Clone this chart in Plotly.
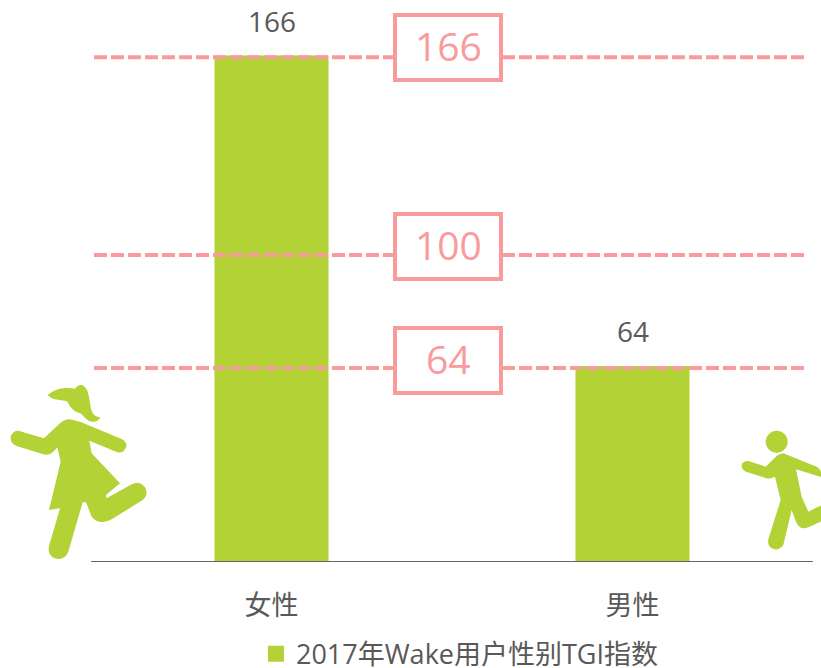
import re
import plotly.graph_objects as go

categories = ["女性", "男性"]
tgi_values = [166, 64]
reference_labels = ["166", "100", "64"]
reference_line_values = [165.4, 100.5, 63.4]
reference_box_centres = [168.8, 103.3, 65.9]
series_name = "2017年Wake用户性别TGI指数"

W, H = 821, 668
ML, MR, MT, MB = 91, 8, 0, 107
GREEN = "#b2d235"
PINK = "#f99a9c"
GREY = "#595959"
FONT = "Open Sans, Noto Sans CJK SC, sans-serif"
PX_PER_UNIT = 3.045


def icon(path, ox, oy):
    """Zoomed-crop coordinates (3x) -> paper fractions."""
    def conv(m):
        x = ox + float(m.group(1)) / 3
        y = oy + float(m.group(2)) / 3
        return f"{(x - ML) / (W - ML - MR):.5f},{1 - (y - MT) / (H - MT - MB):.5f}"
    return re.sub(r"(-?[\d.]+),(-?[\d.]+)", conv, path)


girl_hair = ("M143,75 C165,55 195,50 226,56 C232,44 246,42 254,50 C266,62 268,85 271,105 "
             "C273,125 282,142 301,142 C296,156 276,160 262,149 C250,140 246,132 240,130 "
             "C222,124 208,110 203,95 C190,88 160,94 143,75 Z")
girl_body = ("M210,148 L240,155 L365,207 Q385,218 377,235 Q368,252 350,246 L268,212 L275,250 "
             "L360,340 L318,375 L320,385 L395,343 Q420,332 435,352 Q447,375 428,390 L340,445 "
             "Q298,470 275,440 L258,397 L248,397 L205,545 Q192,575 162,564 Q140,552 148,525 "
             "L180,415 L147,420 L182,275 L172,232 L160,245 Q148,258 130,253 L50,228 "
             "Q28,218 33,197 Q44,176 65,185 L132,205 L180,160 Q194,148 210,148 Z")
boy_head = ("M203,65 C203,83 188,98 170,98 C152,98 137,83 137,65 "
            "C137,47 152,32 170,32 C188,32 203,47 203,65 Z")
boy_body = ("M190,100 L290,140 Q305,148 306,172 L228,148 L245,230 L265,275 L306,255 L306,303 "
            "L265,322 Q240,332 228,305 L215,270 L190,375 Q175,395 155,385 Q140,375 146,355 "
            "L182,240 L165,170 L155,174 Q145,178 130,172 L78,155 Q60,145 67,130 Q78,120 92,125 "
            "L137,140 L170,108 Q180,100 190,100 Z")

fig = go.Figure()
fig.add_bar(x=categories, y=tgi_values, marker=dict(color=GREEN, line_width=0),
            width=0.316, showlegend=False, hoverinfo="skip")
fig.add_scatter(x=[None], y=[None], mode="markers", name=series_name,
                marker=dict(symbol="square", size=18, color=GREEN))

shapes = []
for lvl in reference_line_values:
    shapes.append(dict(type="line", xref="paper", yref="y", x0=3 / 722, x1=715 / 722,
                       y0=lvl, y1=lvl, line=dict(color=PINK, width=4, dash="13px,4px")))
for d in (icon(girl_hair, 0, 370), icon(girl_body, 0, 370),
          icon(boy_head, 720, 420), icon(boy_body, 720, 420)):
    shapes.append(dict(type="path", xref="paper", yref="paper", path=d,
                       fillcolor=GREEN, line_width=0))

annotations = []
for cat, val in zip(categories, tgi_values):
    annotations.append(dict(x=cat, y=val, text=str(val), showarrow=False, yanchor="bottom",
                            yshift=14, font=dict(size=28, color=GREY, family=FONT)))
for label, centre in zip(reference_labels, reference_box_centres):
    annotations.append(dict(xref="paper", x=357 / 722, y=centre, yref="y", text=" ",
                            showarrow=False, width=102, height=61,
                            bgcolor="white", bordercolor=PINK, borderwidth=4, borderpad=0,
                            font=dict(size=39, color=PINK, family=FONT)))
    annotations.append(dict(xref="paper", x=357 / 722, y=centre, yref="y", text=label,
                            showarrow=False, yshift=2,
                            font=dict(size=39, color=PINK, family=FONT)))

fig.update_layout(
    width=W, height=H,
    margin=dict(l=ML, r=MR, t=MT, b=MB, autoexpand=False),
    plot_bgcolor="white", paper_bgcolor="white",
    bargap=0.684,
    shapes=shapes, annotations=annotations,
    showlegend=True,
    legend=dict(orientation="h", x=0.511, xanchor="center", y=-0.1660, yanchor="middle",
                font=dict(size=27, color=GREY, family=FONT), itemwidth=30,
                bgcolor="rgba(0,0,0,0)"),
    xaxis=dict(showgrid=False, showline=True, linecolor="#666666", linewidth=1, ticks="",
               ticklabelstandoff=21, tickfont=dict(size=27, color=GREY, family=FONT)),
    yaxis=dict(visible=False, range=[0, (H - MT - MB) / PX_PER_UNIT]),
)
fig.write_html("out.html", config={"displayModeBar": False},
               post_script="document.body.style.margin='0';")
